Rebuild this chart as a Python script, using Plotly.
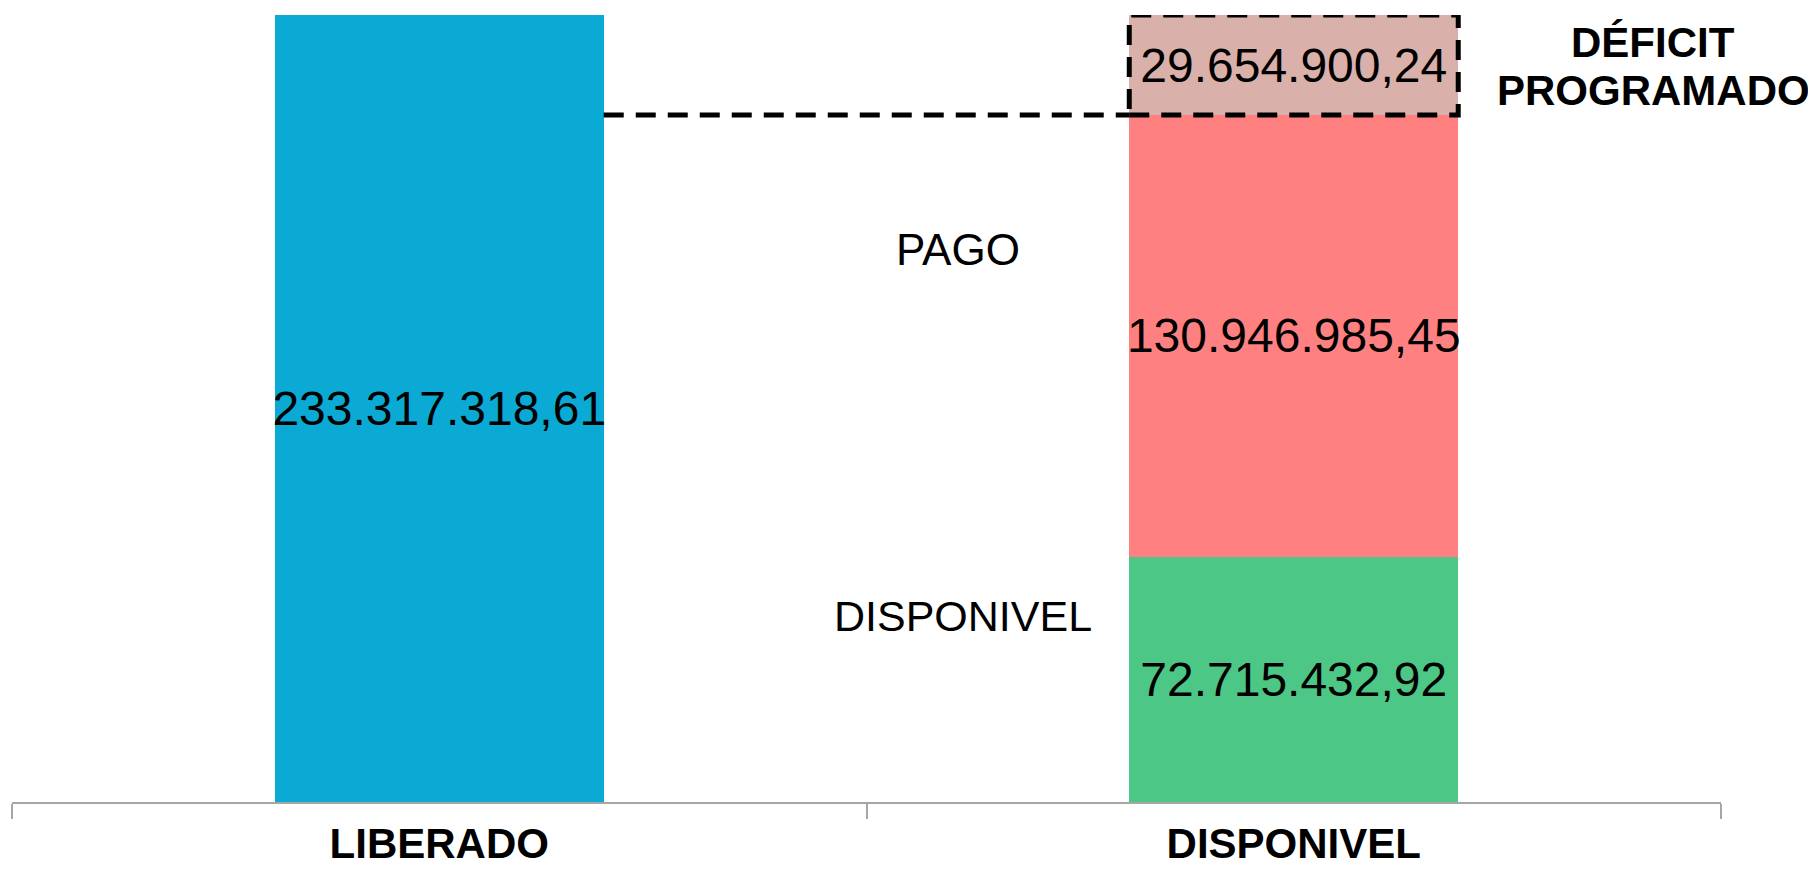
import plotly.graph_objects as go

categories = ["LIBERADO", "DISPONIVEL"]
liberado = [233317318.61]
disponivel = [72715432.92]
pago = [130946985.45]
deficit = [29654900.24]
side_labels = ["PAGO", "DISPONIVEL"]
deficit_label = ["DÉFICIT", "PROGRAMADO"]

def fmt(v):
    s = f"{v:,.2f}"
    return s.replace(",", "X").replace(".", ",").replace("X", ".")

FONT = "Liberation Sans, Arial, sans-serif"
BAR_W = 0.385

fig = go.Figure()
common = dict(textposition="inside", insidetextanchor="middle", constraintext="none",
              textangle=0, textfont=dict(size=48, color="black", family=FONT),
              hoverinfo="skip", width=BAR_W)
fig.add_trace(go.Bar(x=[categories[0]], y=liberado, text=[fmt(v) for v in liberado],
                     marker=dict(color="#0AAAD4", line=dict(width=0)), **common))
fig.add_trace(go.Bar(x=[categories[1]], y=disponivel, text=[fmt(v) for v in disponivel],
                     marker=dict(color="#4DC786", line=dict(width=0)), **common))
fig.add_trace(go.Bar(x=[categories[1]], y=pago, text=[fmt(v) for v in pago],
                     marker=dict(color="#FF8080", line=dict(width=0)), **common))
fig.add_trace(go.Bar(x=[categories[1]], y=deficit, text=[fmt(v) for v in deficit],
                     marker=dict(color="#DAB0AA", line=dict(width=0)), **common))

level = disponivel[0] + pago[0]
top = level + deficit[0]
dash = "20px,12px"
fig.add_shape(type="line", xref="x", yref="y", x0=0 + BAR_W / 2, x1=1 - BAR_W / 2,
              y0=level, y1=level, line=dict(color="black", width=5, dash=dash))
fig.add_shape(type="rect", xref="x", yref="y", x0=1 - BAR_W / 2, x1=1 + BAR_W / 2,
              y0=level, y1=top, line=dict(color="black", width=5, dash=dash), layer="above")

fig.add_annotation(x=0.5535, xref="paper", y=163.9e6, yref="y", text=side_labels[0],
                   showarrow=False, xanchor="center", yanchor="middle",
                   font=dict(size=44, color="black", family=FONT))
fig.add_annotation(x=0.5565, xref="paper", y=55.0e6, yref="y", text=side_labels[1],
                   showarrow=False, xanchor="center", yanchor="middle",
                   font=dict(size=43, color="black", family=FONT))
fig.add_annotation(x=(1653 - 12) / 1709, xref="paper", y=1 - (43 - 15) / 787, yref="paper",
                   text="<b>" + deficit_label[0] + "</b>", showarrow=False,
                   xanchor="center", yanchor="middle",
                   font=dict(size=42, color="black", family=FONT))
fig.add_annotation(x=(1653 - 12) / 1709, xref="paper", y=1 - (90 - 15) / 787, yref="paper",
                   text="<b>" + deficit_label[1] + "</b>", showarrow=False,
                   xanchor="center", yanchor="middle",
                   font=dict(size=42, color="black", family=FONT))

fig.update_layout(
    width=1816, height=871,
    margin=dict(l=4, r=103, t=7, b=77, autoexpand=False),
    paper_bgcolor="white", plot_bgcolor="white",
    barmode="stack", showlegend=False,
    xaxis=dict(type="category", categoryorder="array", categoryarray=categories,
               showline=True, linecolor="#A6A6A6", linewidth=2,
               ticks="outside", tickson="boundaries", ticklen=15, tickwidth=1.5,
               tickcolor="#A6A6A6", showgrid=False, zeroline=False,
               ticklabelstandoff=4, automargin=False,
               tickfont=dict(size=42, color="black", family=FONT),
               tickvals=categories, ticktext=["<b>" + c + "</b>" for c in categories]),
    yaxis=dict(range=[0, top], visible=False, showgrid=False, zeroline=False),
)
fig.write_html("out.html")
